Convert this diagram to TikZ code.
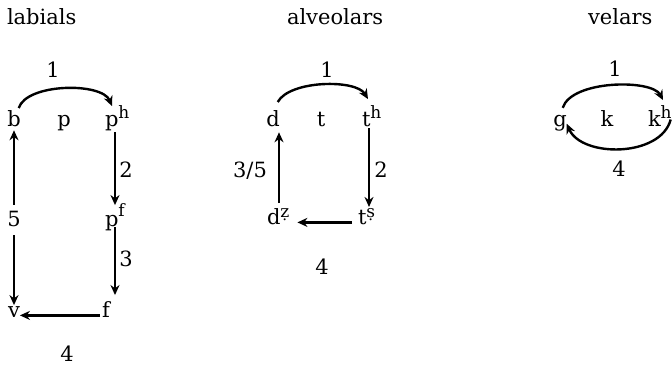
\documentclass[tikz,border=0pt]{standalone}
\usepackage{fontspec}
\setmainfont{DejaVu Serif}
\usetikzlibrary{arrows.meta,calc}
\newcommand\upr[2][8pt]{\raisebox{#1}{\fontsize{17}{19}\selectfont #2}}
\begin{document}
\begin{tikzpicture}[x=1pt,y=1pt,
  lab/.style={inner sep=0pt, outer sep=0pt, font=\fontsize{21}{25}\selectfont},
  arr/.style={line width=2.4pt, -{Stealth[length=10pt,width=9pt]}}]
\useasboundingbox (0,0) rectangle (672,372);
% ---------- labials ----------
\node[lab,anchor=base west] (tlab) at (7,347) {labials};
\node[lab,anchor=base] (l1) at (53,294) {1};
\node[lab,anchor=base] (b) at (14,245) {b};
\node[lab,anchor=base] (p) at (64,245) {p};
\node[lab,anchor=base west] (ph) at (105,245) {p\upr{h}};
\node[lab,anchor=base] (five) at (14,145) {5};
\node[lab,anchor=base west] (pf) at (105,145) {p\upr[10pt]{f}};
\node[lab,anchor=base] (v) at (14,54) {v};
\node[lab,anchor=base] (f) at (106,54) {f};
\node[lab,anchor=base] (l2) at (126,194) {2};
\node[lab,anchor=base] (l3) at (126,105) {3};
\node[lab,anchor=base] (l4) at (67,10) {4};
\coordinate (bs) at ([shift={(-2,3)}]b.north east);
\coordinate (be) at ([xshift=7pt]ph.north west);
\draw[arr] (bs) .. controls ($(bs)+(8,25)$) and ($(be)+(-10,24)$) .. (be);
\draw[arr,shorten <=7pt,shorten >=3pt] (five.north) -- (b.south);
\draw[arr,shorten <=8pt,shorten >=2pt] (five.south) -- (v.north);
\coordinate (phx) at ([xshift=10pt]ph.south west);
\draw[arr,shorten <=1pt,shorten >=-1pt] (phx) -- (phx |- pf.north);
\coordinate (pfx) at ([xshift=10pt]pf.south west);
\draw[arr,shorten <=-4pt,shorten >=7pt] (pfx) -- (pfx |- f.north);
\draw[arr,shorten <=2pt] (f.mid west) -- (v.mid east);
% ---------- alveolars ----------
\node[lab,anchor=base west] (talv) at (287,347) {alveolars};
\node[lab,anchor=base] (a1) at (327,294) {1};
\node[lab,anchor=base] (d) at (273,245) {d};
\node[lab,anchor=base] (t) at (321,245) {t};
\node[lab,anchor=base west] (th) at (362,245) {t\upr{h}};
\node[lab,anchor=base west] (dz) at (267,147) {d\upr[7pt]{ẓ}};
\node[lab,anchor=base west] (ts) at (358,147) {t\upr[7pt]{ṣ}};
\node[lab,anchor=base] (a35) at (250,194) {3/5};
\node[lab,anchor=base] (a2) at (381,194) {2};
\node[lab,anchor=base] (a4) at (322,97) {4};
\coordinate (ds) at ([shift={(-2,9)}]d.north east);
\coordinate (de) at ([shift={(6,7)}]th.north west);
\draw[arr] (ds) .. controls ($(ds)+(12,22)$) and ($(de)+(-12,20)$) .. (de);
\coordinate (dzx) at ([xshift=12pt]dz.north west);
\draw[arr,shorten <=6pt,shorten >=5pt] (dzx) -- (dzx |- d.south);
\coordinate (thx) at ([xshift=7pt]th.south west);
\draw[arr,shorten <=1pt,shorten >=2pt] (thx) -- (thx |- ts.north);
\draw[arr,shorten <=6pt,shorten >=8pt] (ts.mid west) -- (dz.mid east);
% ---------- velars ----------
\node[lab,anchor=base west] (tvel) at (588,347) {velars};
\node[lab,anchor=base] (v1) at (615,295) {1};
\node[lab,anchor=base] (g) at (560,245) {g};
\node[lab,anchor=base] (k) at (607,245) {k};
\node[lab,anchor=base west] (kh) at (648,245) {k\upr{h}};
\node[lab,anchor=base] (v4) at (619,195) {4};
\coordinate (gs) at ([shift={(-4,8)}]g.north east);
\coordinate (ge) at ([shift={(15,6)}]kh.north west);
\draw[arr] (gs) .. controls ($(gs)+(9,28)$) and ($(ge)+(-11,21)$) .. (ge);
\coordinate (ks) at ([shift={(-1,-3)}]kh.east);
\draw[arr] (ks) .. controls ($(ks)+(-10,-38)$) and ($(g.east)+(15,-34)$) .. (g.east);
\end{tikzpicture}
\end{document}
